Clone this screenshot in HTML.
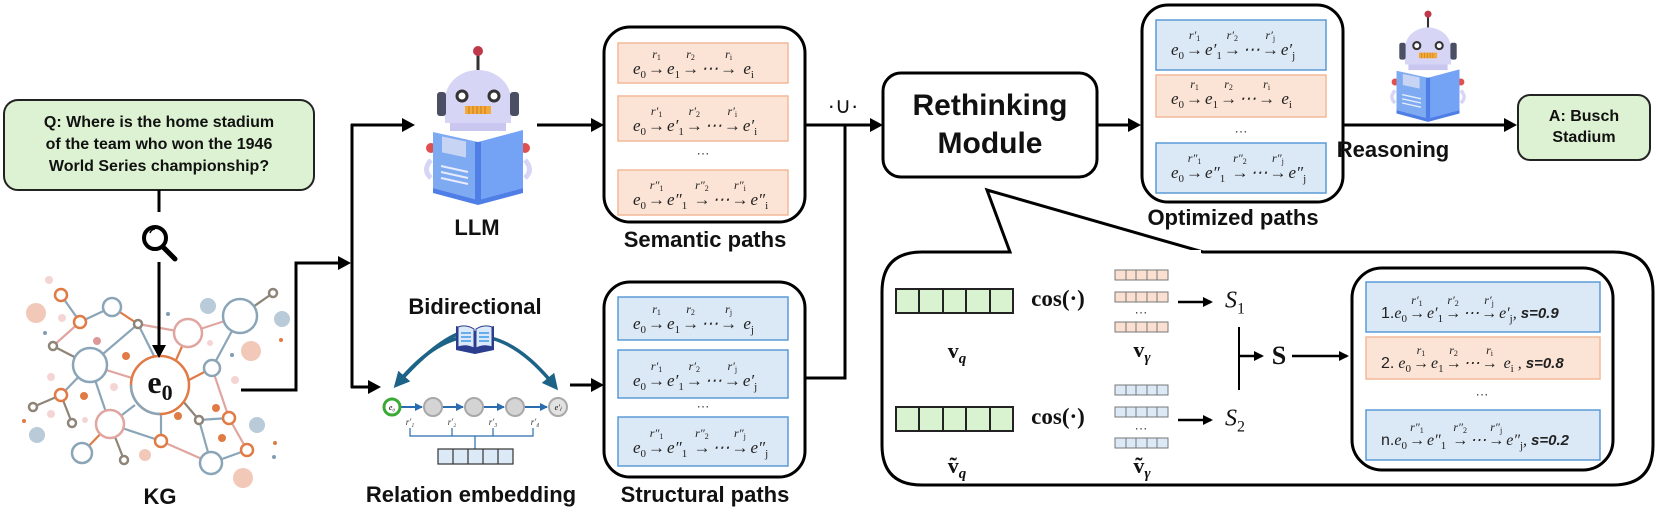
<!DOCTYPE html>
<html><head><meta charset="utf-8">
<style>
html,body{margin:0;padding:0;background:#fff;}
#c{position:relative;width:1660px;height:515px;overflow:hidden;font-family:"Liberation Sans",sans-serif;}
svg{position:absolute;left:0;top:0;}
.t{position:absolute;transform:translate(-50%,-50%);white-space:nowrap;font-weight:bold;color:#111;}
.lbl{font-size:22px;}
.f{position:absolute;font:italic 17px "Liberation Serif",serif;white-space:nowrap;line-height:1;color:#222;}
.f sub{font-size:11px;vertical-align:-4px;font-style:normal;}
.st{display:inline-block;position:relative;font-style:normal;margin:0 2px;}
.lb{position:absolute;left:50%;transform:translateX(-50%);top:-12px;font-style:italic;font-size:12px;}
.lb sub{font-size:8px;vertical-align:-2px;}
.b{font-weight:bold;font-style:italic;font-family:"Liberation Sans",sans-serif;font-size:15px;}
.n{font-style:normal;font-family:"Liberation Sans",sans-serif;}
.dots{position:absolute;transform:translate(-50%,-50%);font-size:13px;color:#333;}
.math{position:absolute;transform:translate(-50%,-50%);font-family:"Liberation Serif",serif;white-space:nowrap;color:#111;}
</style></head><body>
<div id="c">
<svg width="1660" height="515" viewBox="0 0 1660 515">
<defs>
<marker id="ah" markerWidth="10" markerHeight="10" refX="8" refY="5" orient="auto" markerUnits="userSpaceOnUse"><path d="M0,0 L10,5 L0,10 z" fill="#000"/></marker>
<marker id="ab" markerWidth="14" markerHeight="14" refX="10" refY="7" orient="auto" markerUnits="userSpaceOnUse"><path d="M0,0 L13,7 L0,14 z" fill="#000"/></marker>
<marker id="as" markerWidth="8" markerHeight="8" refX="7" refY="4" orient="auto" markerUnits="userSpaceOnUse"><path d="M0,0 L8,4 L0,8 z" fill="#2a6cad"/></marker>
<marker id="at" markerWidth="16" markerHeight="16" refX="8" refY="8" orient="auto" markerUnits="userSpaceOnUse"><path d="M0,0 L16,8 L0,16 z" fill="#1d6287"/></marker>
<g id="robot">
  <line x1="0" y1="4" x2="0" y2="24" stroke="#333" stroke-width="3"/>
  <circle cx="0" cy="3" r="5" fill="#c0394b"/>
  <path d="M-33,75 L-33,52 A33,30 0 0 1 33,52 L33,75 Z" fill="#d7d5f6"/>
  <rect x="-41" y="44" width="9" height="24" rx="3" fill="#4a4f63"/>
  <rect x="32" y="44" width="9" height="24" rx="3" fill="#4a4f63"/>
  <circle cx="-16" cy="48" r="5" fill="#fff" stroke="#333" stroke-width="3"/>
  <circle cx="16" cy="48" r="5" fill="#fff" stroke="#333" stroke-width="3"/>
  <rect x="-13" y="58" width="26" height="8" fill="#f2a93b"/>
  <path d="M-9,58v8M-5,58v8M-1,58v8M3,58v8M7,58v8" stroke="#c9801b" stroke-width="1"/>
  <rect x="-28" y="75" width="56" height="8" fill="#c9c6ef"/>
  <circle cx="-47" cy="100" r="5" fill="#e05050"/>
  <circle cx="47" cy="100" r="5" fill="#e05050"/>
  <path d="M-47,112 Q-56,122 -47,130" stroke="#d7d5f6" stroke-width="5" fill="none"/>
  <path d="M47,112 Q56,122 47,130" stroke="#d7d5f6" stroke-width="5" fill="none"/>
  <path d="M-45,84 L0,94 L0,152 L-45,140 Z" fill="#7eaaf2"/>
  <path d="M0,94 L45,82 L45,140 L0,152 Z" fill="#74a2f5"/>
  <path d="M-3,94 L3,94 L3,152 L-3,152Z" fill="#4f7fe6"/>
  <path d="M-45,140 L0,152 L45,140 L45,145 L0,157 L-45,145Z" fill="#4f7fe6"/>
  <rect x="-36" y="96" width="24" height="16" fill="#c8d4f4" transform="skewY(12)"/>
  <path d="M-37,118 L-10,124 M-37,124 L-10,130 M-37,130 L-10,136" stroke="#e6ecfb" stroke-width="2"/>
</g>
</defs>

<!-- KG graph -->
<g stroke-width="2.2" fill="none">
  <line x1="61" y1="295" x2="80" y2="322" stroke="#8aa5b8"/>
  <line x1="80" y1="322" x2="112" y2="307" stroke="#8aa5b8"/>
  <line x1="80" y1="322" x2="53" y2="346" stroke="#e0a5a0"/>
  <line x1="112" y1="307" x2="138" y2="324" stroke="#e07b45"/>
  <line x1="53" y1="346" x2="90" y2="365" stroke="#8e8478"/>
  <line x1="90" y1="365" x2="138" y2="324" stroke="#8aa5b8"/>
  <line x1="138" y1="324" x2="188" y2="333" stroke="#e0a5a0"/>
  <line x1="138" y1="324" x2="155" y2="358" stroke="#8aa5b8"/>
  <line x1="188" y1="333" x2="240" y2="316" stroke="#e0a5a0"/>
  <line x1="188" y1="333" x2="176" y2="360" stroke="#e07b45"/>
  <line x1="240" y1="316" x2="273" y2="293" stroke="#8e8478"/>
  <line x1="240" y1="316" x2="212" y2="368" stroke="#8aa5b8"/>
  <line x1="90" y1="365" x2="132" y2="378" stroke="#e0a5a0"/>
  <line x1="189" y1="380" x2="212" y2="368" stroke="#e07b45"/>
  <line x1="90" y1="365" x2="61" y2="395" stroke="#8aa5b8"/>
  <line x1="90" y1="365" x2="110" y2="424" stroke="#8aa5b8"/>
  <line x1="61" y1="395" x2="33" y2="407" stroke="#8e8478"/>
  <line x1="61" y1="395" x2="72" y2="423" stroke="#8e8478"/>
  <line x1="135" y1="405" x2="110" y2="424" stroke="#8aa5b8"/>
  <line x1="110" y1="424" x2="161" y2="441" stroke="#8aa5b8"/>
  <line x1="110" y1="424" x2="82" y2="453" stroke="#e07b45"/>
  <line x1="110" y1="424" x2="124" y2="460" stroke="#8e8478"/>
  <line x1="161" y1="414" x2="161" y2="441" stroke="#8aa5b8"/>
  <line x1="161" y1="441" x2="211" y2="463" stroke="#e0a5a0"/>
  <line x1="182" y1="400" x2="199" y2="420" stroke="#8e8478"/>
  <line x1="199" y1="420" x2="229" y2="418" stroke="#8aa5b8"/>
  <line x1="212" y1="368" x2="229" y2="418" stroke="#e0a5a0"/>
  <line x1="229" y1="418" x2="247" y2="450" stroke="#e0a5a0"/>
  <line x1="211" y1="463" x2="247" y2="450" stroke="#8aa5b8"/>
  <line x1="199" y1="420" x2="211" y2="463" stroke="#8aa5b8"/>
</g>
<g fill="#fff" stroke-width="2.5">
  <circle cx="90" cy="365" r="17" stroke="#8aa5b8"/>
  <circle cx="240" cy="316" r="17" stroke="#8aa5b8"/>
  <circle cx="112" cy="307" r="9" stroke="#8aa5b8"/>
  <circle cx="212" cy="368" r="8" stroke="#8aa5b8"/>
  <circle cx="211" cy="463" r="11" stroke="#8aa5b8"/>
  <circle cx="82" cy="453" r="10" stroke="#8aa5b8"/>
  <circle cx="188" cy="333" r="14" stroke="#e0a5a0"/>
  <circle cx="110" cy="424" r="14" stroke="#e0a5a0"/>
  <circle cx="61" cy="295" r="6" stroke="#e07b45"/>
  <circle cx="80" cy="322" r="6" stroke="#e07b45"/>
  <circle cx="61" cy="395" r="6" stroke="#e07b45"/>
  <circle cx="161" cy="441" r="6" stroke="#e07b45"/>
  <circle cx="229" cy="418" r="6" stroke="#e07b45"/>
  <circle cx="247" cy="450" r="6" stroke="#e07b45"/>
  <circle cx="273" cy="293" r="4" stroke="#8e8478"/>
  <circle cx="138" cy="324" r="4" stroke="#8e8478"/>
  <circle cx="53" cy="346" r="4" stroke="#8e8478"/>
  <circle cx="33" cy="407" r="4" stroke="#8e8478"/>
  <circle cx="72" cy="423" r="4" stroke="#8e8478"/>
  <circle cx="124" cy="460" r="4" stroke="#8e8478"/>
  <circle cx="199" cy="420" r="4" stroke="#8e8478"/>
</g>
<g>
  <circle cx="36" cy="313" r="10" fill="#f2c9b8"/>
  <circle cx="208" cy="306" r="8" fill="#b9cad8"/>
  <circle cx="282" cy="319" r="8" fill="#b9cad8"/>
  <circle cx="251" cy="351" r="10" fill="#f2c9b8"/>
  <circle cx="257" cy="425" r="8" fill="#b9cad8"/>
  <circle cx="37" cy="435" r="8" fill="#b9cad8"/>
  <circle cx="243" cy="478" r="10" fill="#f2c9b8"/>
  <circle cx="145" cy="455" r="6" fill="#f2c9b8"/>
  <circle cx="97" cy="341" r="4" fill="#d99"/>
  <circle cx="126" cy="356" r="4" fill="#e07b45"/>
  <circle cx="84" cy="396" r="4" fill="#e07b45"/>
  <circle cx="216" cy="408" r="4" fill="#e07b45"/>
  <circle cx="178" cy="416" r="4" fill="#e07b45"/>
  <circle cx="222" cy="438" r="4" fill="#e07b45"/>
  <circle cx="49" cy="280" r="4" fill="#f5d4d4"/>
  <circle cx="62" cy="318" r="4" fill="#f5d4d4"/>
  <circle cx="51" cy="377" r="4" fill="#f5d4d4"/>
  <circle cx="51" cy="414" r="4" fill="#f5d4d4"/>
  <circle cx="114" cy="387" r="4" fill="#f5d4d4"/>
  <circle cx="235" cy="380" r="4" fill="#f5d4d4"/>
  <circle cx="210" cy="343" r="3" fill="#f5d4d4"/>
  <circle cx="85" cy="420" r="3" fill="#f5d4d4"/>
  <circle cx="24" cy="421" r="2" fill="#e07b45"/>
  <circle cx="275" cy="443" r="2" fill="#e07b45"/>
  <circle cx="281" cy="340" r="2" fill="#e07b45"/>
  <circle cx="45" cy="333" r="2" fill="#7f9bb5"/>
  <circle cx="168" cy="314" r="2" fill="#7f9bb5"/>
  <circle cx="232" cy="355" r="2" fill="#7f9bb5"/>
  <circle cx="274" cy="457" r="2" fill="#7f9bb5"/>
</g>
<circle cx="160" cy="385" r="29" fill="#fff" stroke="#e07b45" stroke-width="2.5"/>
<path d="M131,385 A29,29 0 0 0 160,414" stroke="#8aa5b8" stroke-width="2.5" fill="none"/>

<!-- Question box -->
<rect x="4" y="100" width="310" height="90" rx="14" fill="#dcf2d2" stroke="#222" stroke-width="2"/>
<line x1="159" y1="190" x2="159" y2="212" stroke="#000" stroke-width="3"/>
<circle cx="155" cy="238" r="11" fill="#fff" stroke="#000" stroke-width="4"/>
<path d="M150,233 A6,6 0 0 1 155,229" stroke="#000" stroke-width="1.5" fill="none"/>
<line x1="163" y1="247" x2="175" y2="259" stroke="#000" stroke-width="5" stroke-linecap="round"/>
<line x1="159" y1="262" x2="159" y2="355" stroke="#000" stroke-width="3" marker-end="url(#ab)"/>

<!-- connectors left -->
<polyline points="241,390 296,390 296,263 348,263" fill="none" stroke="#000" stroke-width="3" marker-end="url(#ab)"/>
<line x1="352" y1="124" x2="352" y2="388" stroke="#000" stroke-width="3"/>
<line x1="351" y1="125" x2="412" y2="125" stroke="#000" stroke-width="3" marker-end="url(#ab)"/>
<line x1="351" y1="387" x2="378" y2="387" stroke="#000" stroke-width="3" marker-end="url(#ab)"/>

<use href="#robot" transform="translate(478,48)"/>
<use href="#robot" transform="translate(1428,12) scale(0.7)"/>

<!-- Bidirectional -->
<path d="M397,384 Q475,288 553,384" stroke="#1d6287" stroke-width="3.5" fill="none" marker-end="url(#at)"/>
<path d="M470,330 Q440,336 399,382" stroke="#1d6287" stroke-width="3.5" fill="none" marker-end="url(#at)"/>
<g>
  <path d="M456,326 L475,331 L494,326 L494,350 L475,354 L456,350Z" fill="#2a3d8f"/>
  <path d="M458,327 Q466,324 474,329 L474,348 Q466,344 458,347Z" fill="#dbe9fb" stroke="#2a3d8f"/>
  <path d="M476,329 Q484,324 492,327 L492,347 Q484,344 476,348Z" fill="#dbe9fb" stroke="#2a3d8f"/>
  <path d="M461,333h10M461,337h10M461,341h10M479,333h10M479,337h10M479,341h10" stroke="#3e9be8" stroke-width="1.5"/>
</g>
<g>
  <line x1="401" y1="407" x2="422" y2="407" stroke="#2a6cad" stroke-width="2" marker-end="url(#as)"/>
  <line x1="442" y1="407" x2="463" y2="407" stroke="#2a6cad" stroke-width="2" marker-end="url(#as)"/>
  <line x1="483" y1="407" x2="504" y2="407" stroke="#2a6cad" stroke-width="2" marker-end="url(#as)"/>
  <line x1="524" y1="407" x2="547" y2="407" stroke="#2a6cad" stroke-width="2" marker-end="url(#as)"/>
  <circle cx="392" cy="407" r="8" fill="#fff" stroke="#3aaa35" stroke-width="3"/>
  <circle cx="433" cy="407" r="9" fill="#d4d4d4" stroke="#a8a8a8" stroke-width="2"/>
  <circle cx="474" cy="407" r="9" fill="#d4d4d4" stroke="#a8a8a8" stroke-width="2"/>
  <circle cx="515" cy="407" r="9" fill="#d4d4d4" stroke="#a8a8a8" stroke-width="2"/>
  <circle cx="558" cy="407" r="9" fill="#e2e2e2" stroke="#a8a8a8" stroke-width="2"/>
  <text x="392" y="410" font-family="Liberation Serif" font-style="italic" font-size="8" text-anchor="middle">e₀</text>
  <text x="558" y="410" font-family="Liberation Serif" font-style="italic" font-size="8" text-anchor="middle">e′ⱼ</text>
  <g font-family="Liberation Serif" font-style="italic" font-size="9" text-anchor="middle" fill="#333">
    <text x="410" y="425">r′₁</text><text x="452" y="425">r′₂</text><text x="493" y="425">r′₃</text><text x="535" y="425">r′₄</text>
  </g>
  <path d="M410,428 V436 H533 V428 M452,428 V436 M493,428 V436 M475,436 V449" stroke="#2a6cad" stroke-width="1.2" fill="none"/>
  <rect x="438" y="449" width="75" height="15" fill="#dce9f7" stroke="#333" stroke-width="1.2"/>
  <path d="M453,449v15M468,449v15M483,449v15M498,449v15" stroke="#333" stroke-width="1.2"/>
</g>

<line x1="537" y1="125" x2="601" y2="125" stroke="#000" stroke-width="3" marker-end="url(#ab)"/>
<line x1="570" y1="385" x2="601" y2="385" stroke="#000" stroke-width="3" marker-end="url(#ab)"/>

<rect x="604" y="27" width="201" height="195" rx="26" fill="#fff" stroke="#000" stroke-width="3"/>
<rect x="618" y="43" width="170" height="40" fill="#fbe3d5" stroke="#f4b998" stroke-width="1.5"/>
<rect x="618" y="96" width="170" height="45" fill="#fbe3d5" stroke="#f4b998" stroke-width="1.5"/>
<rect x="618" y="170" width="170" height="45" fill="#fbe3d5" stroke="#f4b998" stroke-width="1.5"/>
<rect x="604" y="282" width="201" height="195" rx="26" fill="#fff" stroke="#000" stroke-width="3"/>
<rect x="618" y="297" width="170" height="43" fill="#dbe8f6" stroke="#5b9bd5" stroke-width="1.5"/>
<rect x="618" y="350" width="170" height="48" fill="#dbe8f6" stroke="#5b9bd5" stroke-width="1.5"/>
<rect x="618" y="417" width="170" height="49" fill="#dbe8f6" stroke="#5b9bd5" stroke-width="1.5"/>

<line x1="805" y1="125" x2="880" y2="125" stroke="#000" stroke-width="3" marker-end="url(#ab)"/>
<polyline points="805,378 845,378 845,125" fill="none" stroke="#000" stroke-width="3"/>

<rect x="883" y="73" width="214" height="104" rx="18" fill="#fff" stroke="#000" stroke-width="3"/>
<line x1="1097" y1="125" x2="1138" y2="125" stroke="#000" stroke-width="3" marker-end="url(#ab)"/>

<rect x="1142" y="5" width="201" height="197" rx="26" fill="#fff" stroke="#000" stroke-width="3"/>
<rect x="1156" y="20" width="170" height="50" fill="#dbe8f6" stroke="#5b9bd5" stroke-width="1.5"/>
<rect x="1156" y="75" width="170" height="42" fill="#fbe3d5" stroke="#f4b998" stroke-width="1.5"/>
<rect x="1156" y="143" width="170" height="50" fill="#dbe8f6" stroke="#5b9bd5" stroke-width="1.5"/>
<line x1="1343" y1="125" x2="1514" y2="125" stroke="#000" stroke-width="3" marker-end="url(#ab)"/>
<rect x="1518" y="95" width="132" height="65" rx="12" fill="#dcf2d2" stroke="#222" stroke-width="2"/>

<path d="M1010,252 L987,190 L1203,252 L1613,252 Q1653,252 1653,292 L1653,445 Q1653,485 1613,485 L922,485 Q882,485 882,445 L882,292 Q882,252 922,252 Z" fill="#fff" stroke="#000" stroke-width="3"/>
<line x1="1012" y1="252" x2="1201" y2="252" stroke="#fff" stroke-width="4"/>

<g stroke="#222" stroke-width="2" fill="#d9f2d0">
  <rect x="896" y="289" width="117" height="24"/>
  <rect x="896" y="407" width="117" height="24"/>
</g>
<path d="M919,289v24M943,289v24M966,289v24M990,289v24M919,407v24M943,407v24M966,407v24M990,407v24" stroke="#222" stroke-width="2"/>
<g stroke="#777" stroke-width="1" fill="#fbe0d2">
  <rect x="1115" y="270" width="53" height="10"/><rect x="1115" y="292" width="53" height="10"/><rect x="1115" y="322" width="53" height="10"/>
</g>
<g stroke="#777" stroke-width="1" fill="#dce9f7">
  <rect x="1115" y="385" width="53" height="10"/><rect x="1115" y="407" width="53" height="10"/><rect x="1115" y="438" width="53" height="10"/>
</g>
<path d="M1126,270v10M1136,270v10M1147,270v10M1157,270v10M1126,292v10M1136,292v10M1147,292v10M1157,292v10M1126,322v10M1136,322v10M1147,322v10M1157,322v10M1126,385v10M1136,385v10M1147,385v10M1157,385v10M1126,407v10M1136,407v10M1147,407v10M1157,407v10M1126,438v10M1136,438v10M1147,438v10M1157,438v10" stroke="#777" stroke-width="1"/>
<line x1="1178" y1="302" x2="1211" y2="302" stroke="#000" stroke-width="2.5" marker-end="url(#ah)"/>
<line x1="1178" y1="420" x2="1211" y2="420" stroke="#000" stroke-width="2.5" marker-end="url(#ah)"/>
<line x1="1239" y1="327" x2="1239" y2="390" stroke="#000" stroke-width="2"/>
<line x1="1239" y1="356" x2="1262" y2="356" stroke="#000" stroke-width="2.5" marker-end="url(#ah)"/>
<line x1="1292" y1="356" x2="1347" y2="356" stroke="#000" stroke-width="2.5" marker-end="url(#ah)"/>
<rect x="1352" y="268" width="261" height="202" rx="30" fill="#fff" stroke="#000" stroke-width="3"/>
<rect x="1366" y="282" width="234" height="50" fill="#dbe8f6" stroke="#5b9bd5" stroke-width="1.5"/>
<rect x="1366" y="337" width="234" height="42" fill="#fbe3d5" stroke="#f4b998" stroke-width="1.5"/>
<rect x="1366" y="410" width="234" height="50" fill="#dbe8f6" stroke="#5b9bd5" stroke-width="1.5"/>
</svg>

<div class="t" style="left:159px;top:145px;font-size:16px;line-height:22px;text-align:center;">Q: Where is the home stadium<br>of the team who won the 1946<br>World Series championship?</div>
<div class="math" style="left:160px;top:385px;font-size:32px;font-weight:bold;">e<sub style="font-size:22px;">0</sub></div>
<div class="t lbl" style="left:160px;top:497px;">KG</div>
<div class="t lbl" style="left:477px;top:228px;">LLM</div>
<div class="t lbl" style="left:475px;top:307px;">Bidirectional</div>
<div class="t lbl" style="left:471px;top:495px;">Relation embedding</div>
<div class="t lbl" style="left:705px;top:240px;">Semantic paths</div>
<div class="t lbl" style="left:705px;top:495px;">Structural paths</div>
<div class="t" style="left:843px;top:106px;font-size:22px;font-weight:normal;">·∪·</div>
<div class="t" style="left:990px;top:125px;font-size:30px;line-height:38px;text-align:center;">Rethinking<br>Module</div>
<div class="t lbl" style="left:1233px;top:218px;">Optimized paths</div>
<div class="t lbl" style="left:1393px;top:150px;">Reasoning</div>
<div class="t" style="left:1584px;top:127px;font-size:16px;line-height:21px;text-align:center;">A: Busch<br>Stadium</div>

<div class="f" style="left:633px;top:60px;">e<sub>0</sub><span class="st"><span class="lb">r<sub>1</sub></span>→</span>e<sub>1</sub><span class="st"><span class="lb">r<sub>2</sub></span>→</span>⋯<span class="st"><span class="lb">r<sub>i</sub></span>→</span> e<sub>i</sub></div>
<div class="f" style="left:633px;top:117px;">e<sub>0</sub><span class="st"><span class="lb">r′<sub>1</sub></span>→</span>e′<sub>1</sub><span class="st"><span class="lb">r′<sub>2</sub></span>→</span>⋯<span class="st"><span class="lb">r′<sub>i</sub></span>→</span>e′<sub>i</sub></div>
<div class="dots" style="left:703px;top:153px;">···</div>
<div class="f" style="left:633px;top:191px;">e<sub>0</sub><span class="st"><span class="lb">r″<sub>1</sub></span>→</span>e″<sub>1</sub> <span class="st"><span class="lb">r″<sub>2</sub></span>→</span>⋯<span class="st"><span class="lb">r″<sub>i</sub></span>→</span>e″<sub>i</sub></div>
<div class="f" style="left:633px;top:315px;">e<sub>0</sub><span class="st"><span class="lb">r<sub>1</sub></span>→</span>e<sub>1</sub><span class="st"><span class="lb">r<sub>2</sub></span>→</span>⋯<span class="st"><span class="lb">r<sub>j</sub></span>→</span> e<sub>j</sub></div>
<div class="f" style="left:633px;top:372px;">e<sub>0</sub><span class="st"><span class="lb">r′<sub>1</sub></span>→</span>e′<sub>1</sub><span class="st"><span class="lb">r′<sub>2</sub></span>→</span>⋯<span class="st"><span class="lb">r′<sub>j</sub></span>→</span>e′<sub>j</sub></div>
<div class="dots" style="left:703px;top:406px;">···</div>
<div class="f" style="left:633px;top:439px;">e<sub>0</sub><span class="st"><span class="lb">r″<sub>1</sub></span>→</span>e″<sub>1</sub> <span class="st"><span class="lb">r″<sub>2</sub></span>→</span>⋯<span class="st"><span class="lb">r″<sub>j</sub></span>→</span>e″<sub>j</sub></div>
<div class="f" style="left:1171px;top:41px;">e<sub>0</sub><span class="st"><span class="lb">r′<sub>1</sub></span>→</span>e′<sub>1</sub><span class="st"><span class="lb">r′<sub>2</sub></span>→</span>⋯<span class="st"><span class="lb">r′<sub>j</sub></span>→</span>e′<sub>j</sub></div>
<div class="f" style="left:1171px;top:90px;">e<sub>0</sub><span class="st"><span class="lb">r<sub>1</sub></span>→</span>e<sub>1</sub><span class="st"><span class="lb">r<sub>2</sub></span>→</span>⋯<span class="st"><span class="lb">r<sub>i</sub></span>→</span> e<sub>i</sub></div>
<div class="dots" style="left:1241px;top:131px;">···</div>
<div class="f" style="left:1171px;top:164px;">e<sub>0</sub><span class="st"><span class="lb">r″<sub>1</sub></span>→</span>e″<sub>1</sub> <span class="st"><span class="lb">r″<sub>2</sub></span>→</span>⋯<span class="st"><span class="lb">r″<sub>j</sub></span>→</span>e″<sub>j</sub></div>

<div class="math" style="left:1058px;top:299px;font-size:23px;font-weight:bold;">cos(·)</div>
<div class="math" style="left:1058px;top:417px;font-size:23px;font-weight:bold;">cos(·)</div>
<div class="math" style="left:957px;top:353px;font-size:22px;font-weight:bold;">v<sub style="font-size:15px;font-style:italic;">q</sub></div>
<div class="math" style="left:957px;top:468px;font-size:22px;font-weight:bold;">ṽ<sub style="font-size:15px;font-style:italic;">q</sub></div>
<div class="math" style="left:1142px;top:352px;font-size:22px;font-weight:bold;">v<sub style="font-size:15px;font-style:italic;">γ</sub></div>
<div class="math" style="left:1142px;top:468px;font-size:22px;font-weight:bold;">ṽ<sub style="font-size:15px;font-style:italic;">γ</sub></div>
<div class="dots" style="left:1141px;top:312px;">···</div>
<div class="dots" style="left:1141px;top:428px;">···</div>
<div class="math" style="left:1235px;top:303px;font-size:24px;font-style:italic;">S<sub style="font-size:16px;font-style:normal;">1</sub></div>
<div class="math" style="left:1235px;top:421px;font-size:24px;font-style:italic;">S<sub style="font-size:16px;font-style:normal;">2</sub></div>
<div class="math" style="left:1279px;top:356px;font-size:26px;font-weight:bold;">S</div>
<div class="f" style="left:1381px;top:306px;font-size:16px;"><span class="n">1.</span>e<sub>0</sub><span class="st"><span class="lb">r′<sub>1</sub></span>→</span>e′<sub>1</sub><span class="st"><span class="lb">r′<sub>2</sub></span>→</span>⋯<span class="st"><span class="lb">r′<sub>j</sub></span>→</span>e′<sub>j</sub>, <span class="b">s=0.9</span></div>
<div class="f" style="left:1381px;top:356px;font-size:16px;"><span class="n">2.</span> e<sub>0</sub><span class="st"><span class="lb">r<sub>1</sub></span>→</span>e<sub>1</sub><span class="st"><span class="lb">r<sub>2</sub></span>→</span>⋯<span class="st"><span class="lb">r<sub>i</sub></span>→</span> e<sub>i</sub> , <span class="b">s=0.8</span></div>
<div class="dots" style="left:1482px;top:394px;">···</div>
<div class="f" style="left:1381px;top:433px;font-size:16px;"><span class="n">n.</span>e<sub>0</sub><span class="st"><span class="lb">r″<sub>1</sub></span>→</span>e″<sub>1</sub> <span class="st"><span class="lb">r″<sub>2</sub></span>→</span>⋯<span class="st"><span class="lb">r″<sub>j</sub></span>→</span>e″<sub>j</sub>, <span class="b">s=0.2</span></div>
</div>
</body></html>
